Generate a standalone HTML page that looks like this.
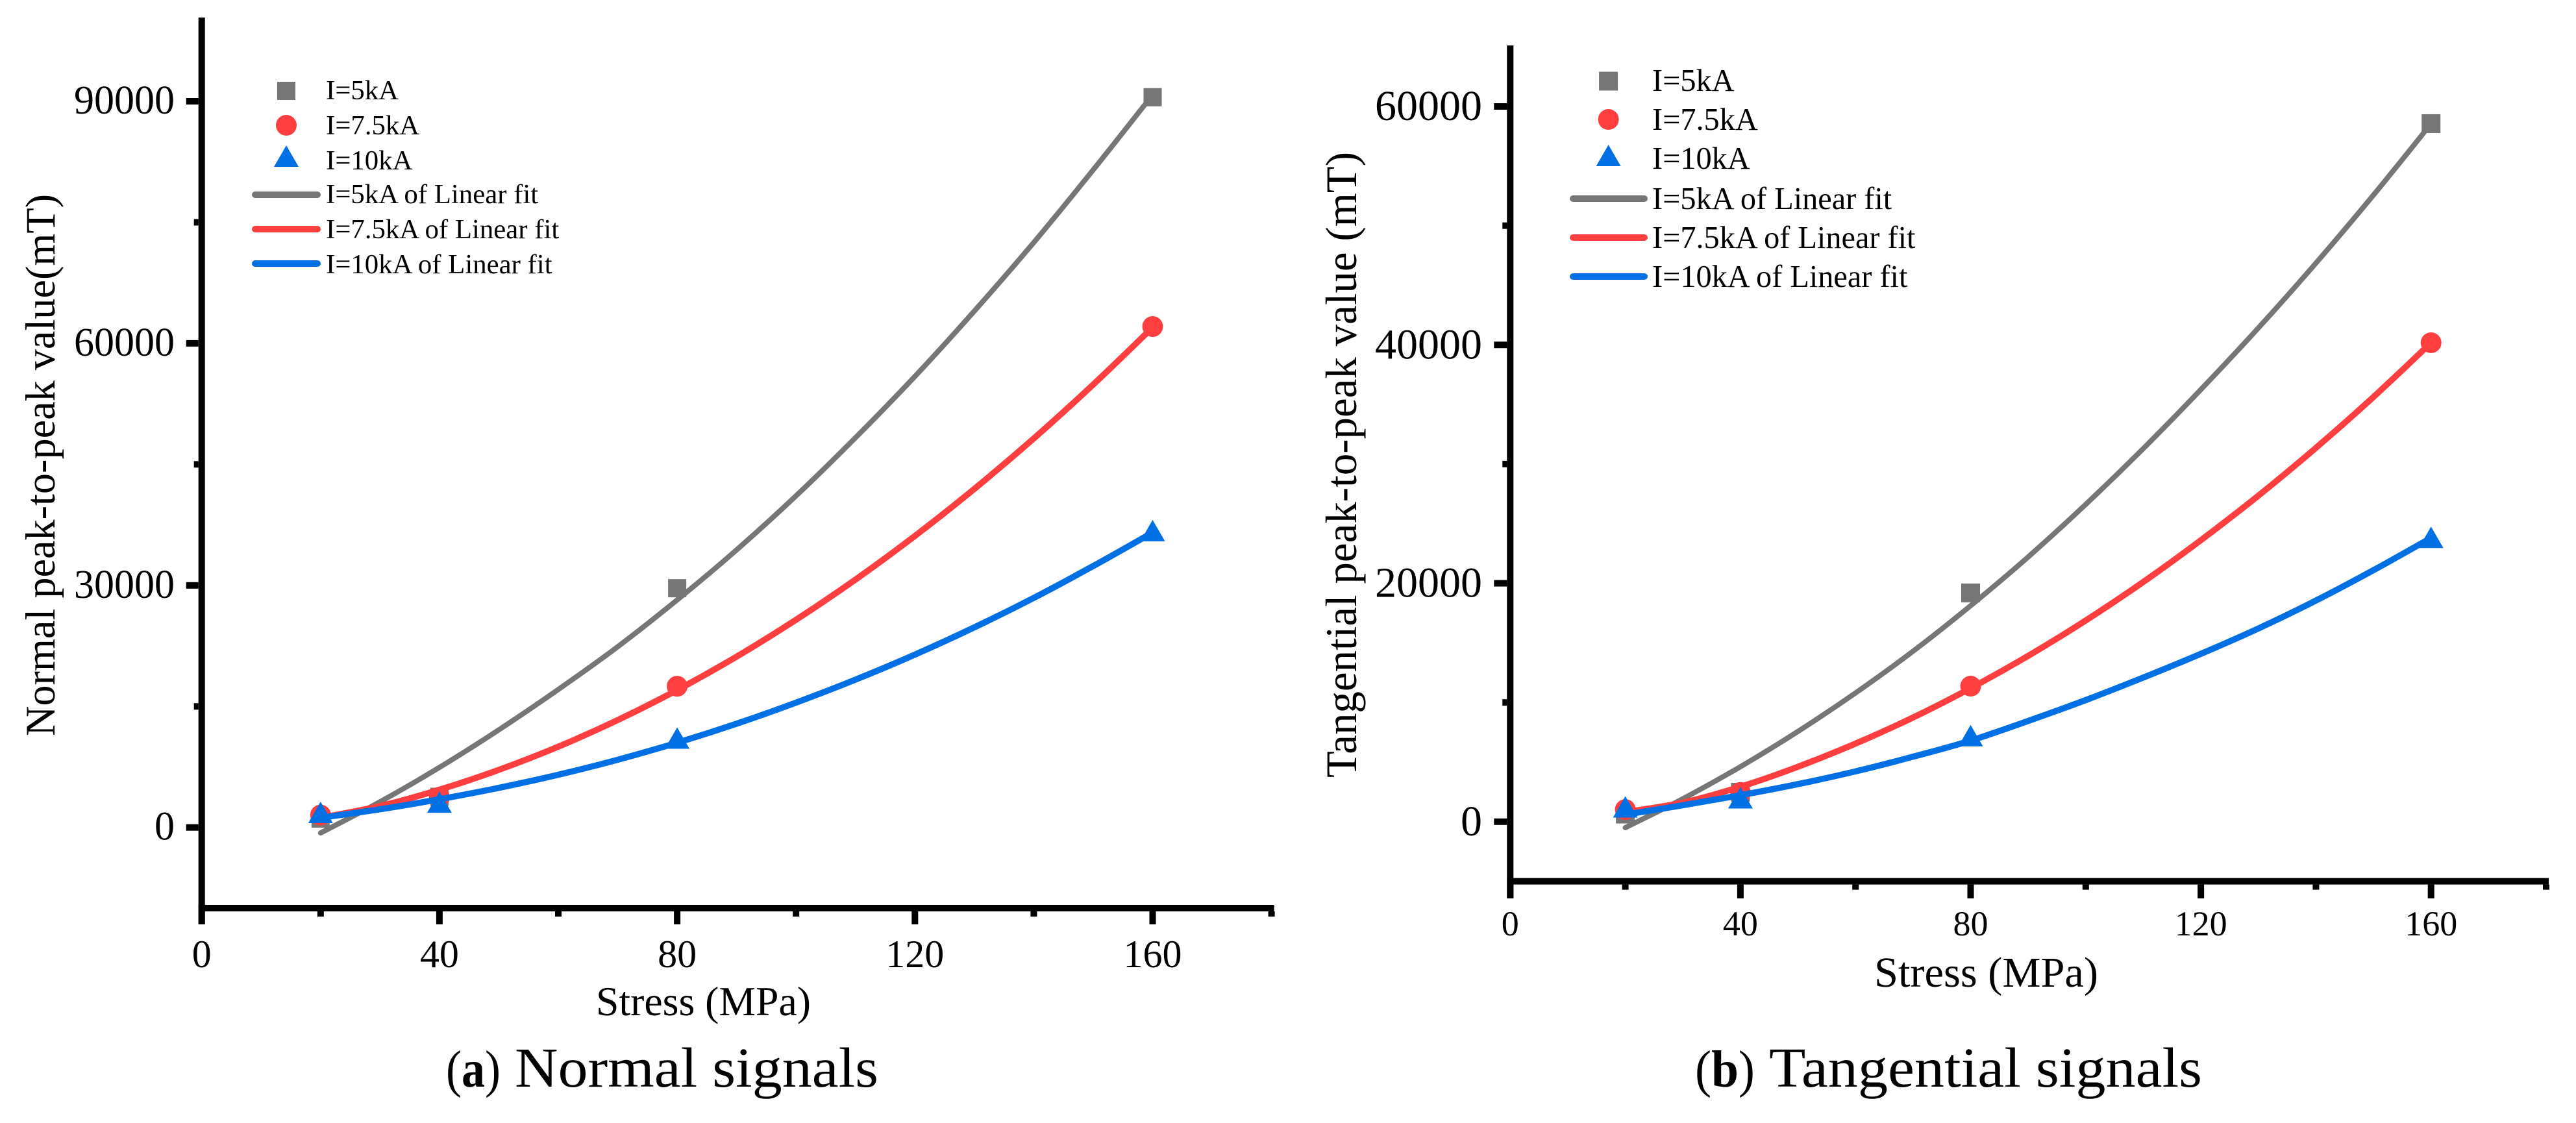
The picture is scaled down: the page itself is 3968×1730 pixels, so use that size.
<!DOCTYPE html>
<html lang="en">
<head>
<meta charset="utf-8">
<title>Peak-to-peak value versus stress</title>
<style>
html,body{margin:0;padding:0;background:#fff;}
body{width:3968px;height:1730px;overflow:hidden;}
svg{display:block;}
text{font-family:"Liberation Serif","Times New Roman",serif;fill:#000;}
</style>
</head>
<body>
<svg id="figure" xmlns="http://www.w3.org/2000/svg" width="3968" height="1730" viewBox="0 0 3968 1730">
  <rect x="0" y="0" width="3968" height="1730" fill="#ffffff"/>
  <g id="chart-a"></g>
  <g id="chart-b"></g>
  <text x="687" y="1674" font-size="80" textLength="84" lengthAdjust="spacingAndGlyphs">(<tspan font-weight="bold">a</tspan>)</text>
  <text x="793" y="1674" font-size="87" textLength="560" lengthAdjust="spacingAndGlyphs">Normal signals</text>
  <text x="2611" y="1674" font-size="80" textLength="92" lengthAdjust="spacingAndGlyphs">(<tspan font-weight="bold">b</tspan>)</text>
  <text x="2725" y="1674" font-size="87" textLength="667" lengthAdjust="spacingAndGlyphs">Tangential signals</text>
</svg>
<script>
// Shared categories
const stressCategories = [20, 40, 80, 160];
const fitStress = [20, 30, 40, 50, 60, 70, 80, 90, 100, 110, 120, 130, 140, 150, 160];
const xMajorTickLabels = [0, 40, 80, 120, 160];
const xMinorTicks = [20, 60, 100, 140, 180];
const seriesNames = ['I=5kA', 'I=7.5kA', 'I=10kA'];
const fitNames = ['I=5kA of Linear fit', 'I=7.5kA of Linear fit', 'I=10kA of Linear fit'];

// Chart (a) Normal signals
const normalYMajorTicks = [0, 30000, 60000, 90000];
const normalYMinorTicks = [15000, 45000, 75000];
const normalPoints5kA = [1100, 3800, 29650, 90500];
const normalPoints7kA = [1540, 3750, 17500, 62080];
const normalPoints10kA = [1830, 3100, 11040, 36750];
const normalFit5kA = [-680, 3170, 7440, 12100, 17100, 22400, 28200, 34400, 41100, 48300, 55900, 64000, 72500, 81500, 90800];
const normalFit7kA = [1200, 2650, 4680, 7140, 10010, 13310, 17030, 21170, 25740, 30720, 36130, 41960, 48210, 54890, 61980];
const normalFit10kA = [1200, 2250, 3500, 4910, 6530, 8390, 10500, 12860, 15470, 18320, 21420, 24800, 28450, 32400, 36550];

// Chart (b) Tangential signals
const tangentialYMajorTicks = [0, 20000, 40000, 60000];
const tangentialYMinorTicks = [10000, 30000, 50000];
const tangentialPoints5kA = [640, 2470, 19190, 58560];
const tangentialPoints7kA = [1020, 2450, 11370, 40180];
const tangentialPoints10kA = [1215, 1977, 7190, 23830];
const tangentialFit5kA = [-500, 1920, 4610, 7570, 10800, 14300, 18120, 22210, 26620, 31300, 36250, 41420, 46860, 52570, 58550];
const tangentialFit7kA = [800, 1600, 2930, 4610, 6550, 8740, 11200, 13910, 16880, 20110, 23610, 27350, 31360, 35630, 40180];
const tangentialFit10kA = [590, 1380, 2220, 3150, 4220, 5450, 6800, 8450, 10200, 12090, 14080, 16210, 18550, 21100, 23800];

const SVG_NS = 'http://www.w3.org/2000/svg';
const COLORS = ['#767676', '#ff3f3f', '#0070e4'];

function make(tag, parent, attrs, content) {
  const el = document.createElementNS(SVG_NS, tag);
  for (const k in attrs) el.setAttribute(k, attrs[k]);
  if (content !== undefined) el.textContent = content;
  parent.appendChild(el);
  return el;
}

function smoothPath(xs, ys) {
  let d = 'M' + xs[0].toFixed(2) + ' ' + ys[0].toFixed(2);
  for (let i = 0; i < xs.length - 1; i++) {
    const i0 = Math.max(i - 1, 0), i3 = Math.min(i + 2, xs.length - 1);
    const c1x = xs[i] + (xs[i + 1] - xs[i0]) / 6;
    const c1y = ys[i] + (ys[i + 1] - ys[i0]) / 6;
    const c2x = xs[i + 1] - (xs[i3] - xs[i]) / 6;
    const c2y = ys[i + 1] - (ys[i3] - ys[i]) / 6;
    d += 'C' + c1x.toFixed(2) + ' ' + c1y.toFixed(2) + ' ' + c2x.toFixed(2) + ' ' + c2y.toFixed(2) + ' ' + xs[i + 1].toFixed(2) + ' ' + ys[i + 1].toFixed(2);
  }
  return d;
}

function drawMarker(parent, kind, cx, cy, color, squareSize, name) {
  let el;
  if (kind === 0) {
    el = make('rect', parent, {x: cx - squareSize / 2, y: cy - squareSize / 2, width: squareSize, height: squareSize, fill: color});
  } else if (kind === 1) {
    el = make('circle', parent, {cx: cx, cy: cy, r: 16, fill: color});
  } else {
    el = make('polygon', parent, {points: cx + ',' + (cy - 17) + ' ' + (cx + 19) + ',' + (cy + 16) + ' ' + (cx - 19) + ',' + (cy + 16), fill: color});
  }
  
  
  return el;
}

function drawChart(cfg) {
  const root = document.getElementById(cfg.id);
  const xScale = v => cfg.x0 + v * cfg.xPerUnit;
  const yScale = v => cfg.y0 - v * cfg.yPerUnit;
  const axisX = cfg.x0;
  const axisY = yScale(cfg.yMin);

  // Axes
  const yAxis = make('rect', root, {x: axisX - 5, y: cfg.axisTop, width: 10, height: cfg.xMajorEnd - cfg.axisTop, fill: '#000'});
  
  
  const xAxis = make('rect', root, {x: axisX - 5, y: axisY - 5, width: xScale(180) - axisX + 9, height: 10, fill: '#000'});
  
  

  // Y ticks
  cfg.yMajor.forEach(v => {
    const t = make('rect', root, {x: axisX - cfg.yMajorLen - 5, y: yScale(v) - 5, width: cfg.yMajorLen, height: 10, fill: '#000'});
    
    
    const l = make('text', root, {x: cfg.yLabelRight, y: yScale(v) + cfg.yLabelDy, 'font-size': cfg.yTickFont, 'text-anchor': 'end'}, String(v));
    
    
  });
  cfg.yMinor.forEach(v => {
    const t = make('rect', root, {x: axisX - 12, y: yScale(v) - 5, width: 7, height: 10, fill: '#000'});
    
    
  });

  // X ticks
  xMajorTickLabels.forEach(v => {
    const t = make('rect', root, {x: xScale(v) - 5, y: axisY + 5, width: 10, height: cfg.xMajorEnd - axisY - 5, fill: '#000'});
    
    
    const l = make('text', root, {x: xScale(v), y: cfg.xLabelBaseline, 'font-size': cfg.xTickFont, 'text-anchor': 'middle'}, String(v));
    
    
  });
  xMinorTicks.forEach(v => {
    const t = make('rect', root, {x: xScale(v) - 5, y: axisY + 5, width: 10, height: cfg.xMinorLen, fill: '#000'});
    
    
  });

  // Axis titles
  const xt = make('text', root, {x: cfg.xTitleX, y: cfg.xTitleY, 'font-size': cfg.xTitleFont, textLength: cfg.xTitleLen, lengthAdjust: 'spacingAndGlyphs'}, 'Stress (MPa)');
  
  
  const yt = make('text', root, {transform: 'translate(' + cfg.yTitleX + ' ' + cfg.yTitleY + ') rotate(-90)', x: 0, y: 0, 'font-size': cfg.yTitleFont, textLength: cfg.yTitleLen, lengthAdjust: 'spacingAndGlyphs'}, cfg.yTitle);
  
  

  // Series: each scatter sits under its own fit curve
  cfg.points.forEach((vals, s) => {
    vals.forEach((v, i) => {
      drawMarker(root, s, xScale(stressCategories[i]), yScale(v), COLORS[s], cfg.square, 'point-' + seriesNames[s].replace(/[^0-9a-zA-Z.]/g, '').toLowerCase() + '-' + stressCategories[i]);
    });
    const fit = make('path', root, {
      d: smoothPath(fitStress.map(xScale), cfg.fits[s].map(yScale)),
      fill: 'none', stroke: COLORS[s], 'stroke-width': cfg.lineWidths[s], 'stroke-linecap': 'round', 'stroke-linejoin': 'round'
    });
    
    
  });

  // Legend
  seriesNames.forEach((name, s) => {
    drawMarker(root, s, cfg.legendCx, cfg.legendMarkerY[s], COLORS[s], cfg.square, 'legend-marker-' + s);
    const t = make('text', root, {x: cfg.legendTextX, y: cfg.legendTextY[s], 'font-size': cfg.legendFont}, name);
    
    
  });
  fitNames.forEach((name, s) => {
    const l = make('line', root, {x1: cfg.legendLineX[0] + 5, x2: cfg.legendLineX[1] - 5, y1: cfg.legendLineY[s], y2: cfg.legendLineY[s], stroke: COLORS[s], 'stroke-width': 10, 'stroke-linecap': 'round'});
    
    
    const t = make('text', root, {x: cfg.legendTextX, y: cfg.legendTextY[s + 3], 'font-size': cfg.legendFont}, name);
    
    
  });
}

drawChart({
  id: 'chart-a', x0: 310.7, xPerUnit: 9.155, y0: 1274.7, yPerUnit: 0.01243, yMin: -10000,
  axisTop: 27, xMajorEnd: 1424, xMinorLen: 8, yMajorLen: 19,
  yMajor: normalYMajorTicks, yMinor: normalYMinorTicks,
  yLabelRight: 269, yLabelDy: 19, yTickFont: 62, xLabelBaseline: 1490, xTickFont: 60,
  xTitleX: 918, xTitleY: 1564, xTitleFont: 63, xTitleLen: 331,
  yTitle: 'Normal peak-to-peak value(mT)', yTitleX: 84, yTitleY: 1134, yTitleFont: 65, yTitleLen: 835,
  points: [normalPoints5kA, normalPoints7kA, normalPoints10kA],
  fits: [normalFit5kA, normalFit7kA, normalFit10kA],
  lineWidths: [8, 9.5, 9.5], square: 28,
  legendCx: 441, legendMarkerY: [140, 193, 241], legendTextX: 502, legendTextY: [153, 207, 261, 313, 367, 421], legendFont: 42.8,
  legendLineX: [388, 494], legendLineY: [300, 353, 406]
});

drawChart({
  id: 'chart-b', x0: 2326.3, xPerUnit: 8.865, y0: 1265.8, yPerUnit: 0.018363, yMin: -5000,
  axisTop: 70, xMajorEnd: 1384, xMinorLen: 8, yMajorLen: 20,
  yMajor: tangentialYMajorTicks, yMinor: tangentialYMinorTicks,
  yLabelRight: 2283, yLabelDy: 21, yTickFont: 66, xLabelBaseline: 1441, xTickFont: 54,
  xTitleX: 2887, xTitleY: 1520, xTitleFont: 66, xTitleLen: 345,
  yTitle: 'Tangential peak-to-peak value (mT)', yTitleX: 2089, yTitleY: 1198, yTitleFont: 68, yTitleLen: 964,
  points: [tangentialPoints5kA, tangentialPoints7kA, tangentialPoints10kA],
  fits: [tangentialFit5kA, tangentialFit7kA, tangentialFit10kA],
  lineWidths: [8, 9.5, 9.5], square: 29,
  legendCx: 2477.6, legendMarkerY: [125, 184, 240], legendTextX: 2545, legendTextY: [140, 200, 260, 322, 382, 442], legendFont: 48.3,
  legendLineX: [2418, 2538], legendLineY: [306, 366, 426]
});
</script>
</body>
</html>
